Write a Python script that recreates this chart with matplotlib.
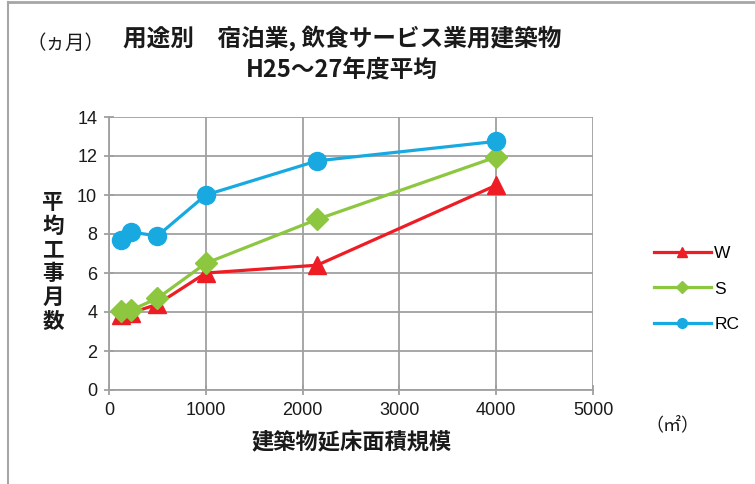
import matplotlib
matplotlib.use("Agg")
import matplotlib.pyplot as plt
from matplotlib.lines import Line2D

plt.rcParams['font.family'] = ['Liberation Sans', 'Noto Sans CJK JP', 'DejaVu Sans']

# floor area (m2) and average construction months
area = [120, 230, 500, 1000, 2150, 4000]
w_months = [3.85, 3.95, 4.4, 6.0, 6.4, 10.5]
s_months = [4.07, 4.1, 4.7, 6.5, 8.75, 11.95]
rc_months = [7.7, 8.1, 7.9, 10.0, 11.75, 12.75]

series = [
    ("W", w_months, "#ee1d25", "^", 13),
    ("S", s_months, "#8dc63f", "D", 11),
    ("RC", rc_months, "#18a9e1", "o", 13),
]

xticks = [0, 1000, 2000, 3000, 4000, 5000]
yticks = [0, 2, 4, 6, 8, 10, 12, 14]

fig = plt.figure(figsize=(7.55, 4.84), dpi=100)
ax = fig.add_axes([109 / 755, 1 - 390 / 484, 484 / 755, 273 / 484])

grid_c = "#a0a0a0"
handles = []
for name, vals, col, mk, ms in series:
    ax.plot(area, vals, color=col, lw=2.3, marker=mk, ms=ms, mec=col, zorder=3)
    handles.append(Line2D([], [], color=col, lw=2.3, marker=mk,
                          ms=7 if mk != "D" else 6, mec=col, label=name))

ax.set_xlim(0, 5000)
ax.set_ylim(0, 14)
ax.set_xticks(xticks)
ax.set_yticks(yticks)
ax.grid(True, color=grid_c, lw=1.3)
ax.set_axisbelow(True)
for side in ["top", "right"]:
    ax.spines[side].set_visible(False)
for side in ["left", "bottom"]:
    ax.spines[side].set_color(grid_c)
    ax.spines[side].set_linewidth(1.3)
ax.tick_params(direction="inout", length=7, width=1.3, color=grid_c,
               labelsize=13, labelcolor="#1a1a1a", pad=5)

bold = dict(family=['Noto Sans CJK JP'], fontweight="bold", color="#1a1a1a")
fig.text(342 / 755, 1 - 38 / 484, "用途別\u3000宿泊業, 飲食サービス業用建築物",
         ha="center", va="center", fontsize=17, **bold)
fig.text(342 / 755, 1 - 70 / 484, "H25～27年度平均",
         ha="center", va="center", fontsize=17, **bold)
fig.text(66 / 755, 1 - 43 / 484, "（ヵ月）", ha="center", va="center",
         fontsize=14, family=['Noto Sans CJK JP'], color="#1a1a1a")
fig.text(53 / 755, 1 - 262 / 484, "平\n均\n工\n事\n月\n数", ha="center",
         va="center", fontsize=15.5, linespacing=1.17, **bold)
fig.text(352 / 755, 1 - 442 / 484, "建築物延床面積規模", ha="center",
         va="center", fontsize=16, **bold)
fig.text(672 / 755, 1 - 425 / 484, "（㎡）", ha="center", va="center",
         fontsize=13, family=['Noto Sans CJK JP'], color="#1a1a1a")

fig.legend(handles=handles, loc="center left",
           bbox_to_anchor=(638 / 755, 1 - 289 / 484), frameon=False,
           fontsize=12.5, handlelength=3.3, labelspacing=1.15,
           handletextpad=0.2)

# outer frame (top and left edges visible in the crop)
fig.add_artist(Line2D([8 / 755, 1], [1 - 2 / 484, 1 - 2 / 484],
                      transform=fig.transFigure, color="#a6a6a6", lw=2))
fig.add_artist(Line2D([8 / 755, 8 / 755], [0, 1 - 2 / 484],
                      transform=fig.transFigure, color="#a6a6a6", lw=1.5))

fig.savefig("out.png", dpi=100, facecolor="white")
